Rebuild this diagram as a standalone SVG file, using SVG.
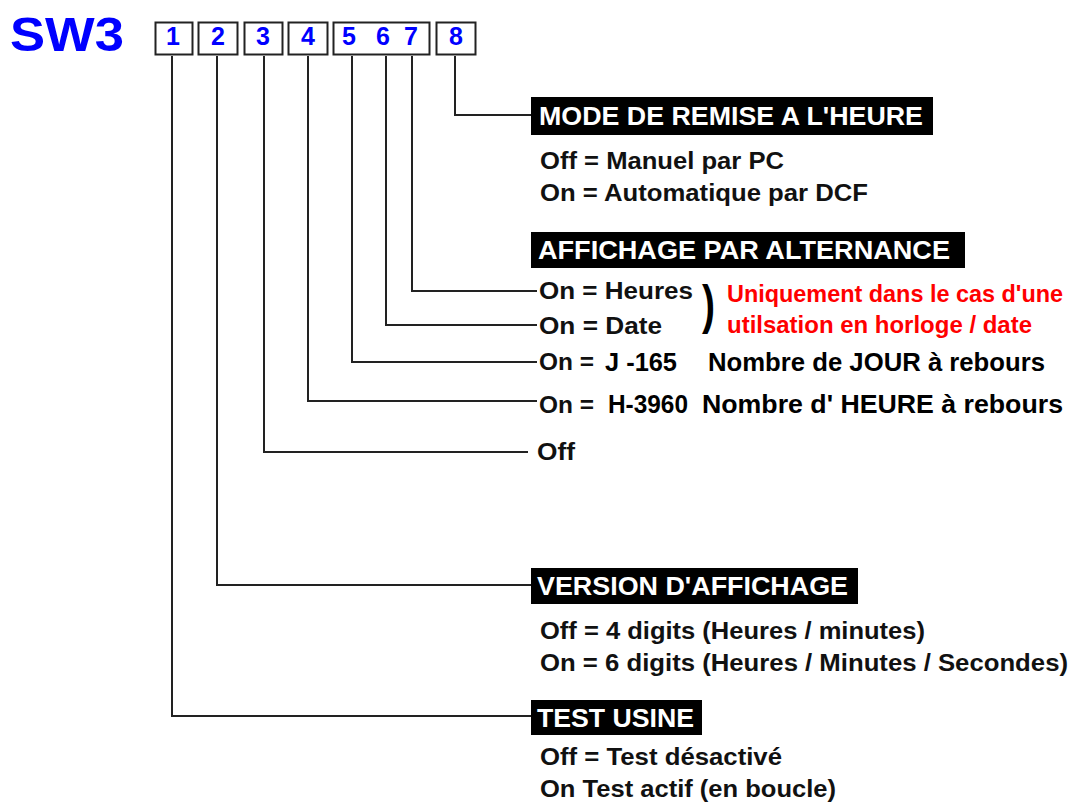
<svg xmlns="http://www.w3.org/2000/svg" width="1070" height="803" viewBox="0 0 1070 803">
<style>
.sw{font-family:"Liberation Sans",Arial,sans-serif;font-weight:bold;fill:#0000ff}
.dig{font-family:"Liberation Sans",Arial,sans-serif;font-weight:bold;fill:#0000ff;font-size:25px;text-anchor:middle}
.box{fill:#fff;stroke:#222;stroke-width:2}
.ttl{fill:#000}
.tt{font-family:"Liberation Sans Narrow","Liberation Sans",Arial,sans-serif;font-weight:bold;fill:#fff;font-size:25px}
.tx{font-family:"Liberation Sans Narrow","Liberation Sans",Arial,sans-serif;font-weight:bold;fill:#111;font-size:23px}
.txb{font-family:"Liberation Sans Narrow","Liberation Sans",Arial,sans-serif;font-weight:bold;fill:#000;font-size:26px}
.red{font-family:"Liberation Sans Narrow","Liberation Sans",Arial,sans-serif;font-weight:bold;fill:#ff0000;font-size:24px}
.ln{fill:none;stroke:#222;stroke-width:2}
</style>
<rect width="1070" height="803" fill="#fff"/>
<g id="sw3">
<text class="sw" x="10" y="51" font-size="49" textLength="114" lengthAdjust="spacingAndGlyphs">SW3</text>
<rect class="box" x="155.5" y="22.5" width="37" height="32"/>
<text class="dig" x="173" y="45">1</text>
<rect class="box" x="198.5" y="22.5" width="39" height="32"/>
<text class="dig" x="218" y="45">2</text>
<rect class="box" x="244.5" y="22.5" width="38" height="32"/>
<text class="dig" x="263" y="45">3</text>
<rect class="box" x="288.5" y="22.5" width="39" height="32"/>
<text class="dig" x="308" y="45">4</text>
<rect class="box" x="333.5" y="22.5" width="96" height="32"/>
<text class="dig" x="349" y="45">5</text>
<text class="dig" x="383" y="45">6</text>
<text class="dig" x="411" y="45">7</text>
<rect class="box" x="436.5" y="22.5" width="39" height="32"/>
<text class="dig" x="456" y="45">8</text>
</g>
<g id="connectors">
<polyline class="ln" points="455,56 455,115 531,115"/>
<polyline class="ln" points="412,56 412,291 537,291"/>
<polyline class="ln" points="386,56 386,325 537,325"/>
<polyline class="ln" points="352,56 352,362 537,362"/>
<polyline class="ln" points="308,56 308,401 537,401"/>
<polyline class="ln" points="264,56 264,452 528,452"/>
<polyline class="ln" points="217,56 217,585 531,585"/>
<polyline class="ln" points="172,56 172,716 531,716"/>
</g>
<g id="mode">
<rect class="ttl" x="531" y="97" width="402" height="38"/>
<text class="tt" x="539" y="125" textLength="384" lengthAdjust="spacingAndGlyphs">MODE DE REMISE A L'HEURE</text>
<text class="tx" x="540" y="169" textLength="244" lengthAdjust="spacingAndGlyphs">Off = Manuel par PC</text>
<text class="tx" x="540" y="201" textLength="328" lengthAdjust="spacingAndGlyphs">On = Automatique par DCF</text>
</g>
<g id="affichage">
<rect class="ttl" x="531" y="232" width="434" height="36"/>
<text class="tt" x="538" y="259" textLength="412" lengthAdjust="spacingAndGlyphs">AFFICHAGE PAR ALTERNANCE</text>
<text class="tx" x="539" y="299" textLength="154" lengthAdjust="spacingAndGlyphs">On = Heures</text>
<text class="tx" x="539" y="334" textLength="123" lengthAdjust="spacingAndGlyphs">On = Date</text>
<text class="txb" transform="translate(702,323) scale(1.5,2.1)" font-size="26">)</text>
<text class="red" x="727" y="302" textLength="336" lengthAdjust="spacingAndGlyphs">Uniquement dans le cas d'une</text>
<text class="red" x="727" y="333" textLength="305" lengthAdjust="spacingAndGlyphs">utilsation en horloge / date</text>
<text class="tx" x="539" y="370" textLength="55" lengthAdjust="spacingAndGlyphs">On =</text>
<text class="txb" x="605" y="371" textLength="72" lengthAdjust="spacingAndGlyphs">J -165</text>
<text class="txb" x="708" y="371" textLength="337" lengthAdjust="spacingAndGlyphs">Nombre de JOUR à rebours</text>
<text class="tx" x="539" y="413" textLength="55" lengthAdjust="spacingAndGlyphs">On =</text>
<text class="txb" x="608" y="413" textLength="80" lengthAdjust="spacingAndGlyphs">H-3960</text>
<text class="txb" x="702" y="413" textLength="361" lengthAdjust="spacingAndGlyphs">Nombre d' HEURE à rebours</text>
<text class="tx" x="537" y="460" textLength="38" lengthAdjust="spacingAndGlyphs">Off</text>
</g>
<g id="version">
<rect class="ttl" x="531" y="568" width="327" height="36"/>
<text class="tt" x="537" y="595" textLength="311" lengthAdjust="spacingAndGlyphs">VERSION D'AFFICHAGE</text>
<text class="tx" x="540" y="639" textLength="385" lengthAdjust="spacingAndGlyphs">Off = 4 digits (Heures / minutes)</text>
<text class="tx" x="540" y="671" textLength="528" lengthAdjust="spacingAndGlyphs">On = 6 digits (Heures / Minutes / Secondes)</text>
</g>
<g id="test">
<rect class="ttl" x="531" y="700" width="171" height="35"/>
<text class="tt" x="537" y="727" textLength="157" lengthAdjust="spacingAndGlyphs">TEST USINE</text>
<text class="tx" x="540" y="765" textLength="242" lengthAdjust="spacingAndGlyphs">Off = Test désactivé</text>
<text class="tx" x="540" y="797" textLength="296" lengthAdjust="spacingAndGlyphs">On Test actif (en boucle)</text>
</g>
</svg>
